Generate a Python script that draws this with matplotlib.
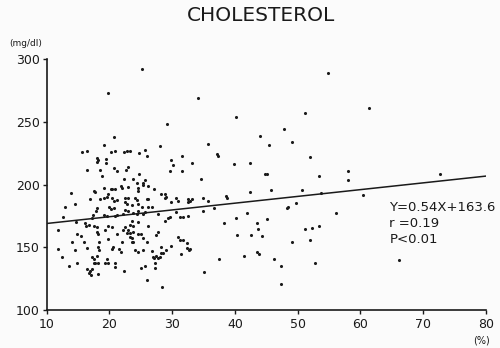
import matplotlib
matplotlib.use("Agg")
import matplotlib.pyplot as plt
import numpy as np

# Body-fat percentage (%) vs cholesterol (mg/dl)
fat_pct = [
    25.2, 19.8, 34.2, 40.2, 29.2, 20.8, 35.8, 19.2, 15.7, 16.5, 20.2, 20.9, 22.3, 22.8, 23.3,
    24.7, 25.7, 26.0, 28.1, 31.6, 37.2, 37.3, 18.0, 18.2, 18.1, 19.4, 19.4, 29.9, 30.1, 33.2,
    39.9, 16.5, 18.6, 20.8, 21.2, 22.6, 23.0, 24.7, 18.9, 29.7, 31.6, 22.3, 23.7, 25.7, 34.6,
    54.8, 61.4, 51.1, 47.9, 44.0, 49.1, 45.4, 52.0, 42.4, 44.8, 45.1, 53.4, 58.0, 72.7, 58.1,
    # dense centre, upper part
    13.9, 17.5, 17.7, 19.1, 20.2, 20.5, 20.9, 21.9, 22.1, 19.8, 19.6, 19.2, 16.9, 18.5, 20.5,
    20.7, 21.2, 12.9, 14.6, 18.0, 17.9, 20.0, 20.3, 20.7, 22.2, 12.6, 17.4, 17.2, 19.2, 19.7,
    20.9, 21.3, 16.2, 16.7, 16.3, 14.7, 17.5, 18.0, 19.8, 20.4,
    23.0, 24.5, 24.6, 26.2, 27.2, 24.4, 25.4, 25.3, 28.9, 29.1, 28.9, 28.2, 22.5, 23.0, 24.1,
    24.4, 26.0, 26.2, 30.7, 31.0, 32.6, 32.9, 33.1, 32.6, 29.9, 34.9, 22.5, 22.9, 23.6, 24.6,
    25.2, 26.1, 26.8, 34.9, 30.7, 22.5, 23.0, 23.8, 24.4, 24.5, 25.4, 25.7, 27.8, 29.7, 29.4,
    31.3, 31.8, 32.6, 28.9, 23.6, 23.3, 23.8, 24.6, 26.1,
    # dense centre, lower part
    11.9, 18.0, 18.2, 19.3, 21.2, 22.2, 14.9, 15.5, 19.8, 14.0, 16.0, 18.4, 22.0, 20.6, 20.4,
    21.5, 21.9, 11.8, 14.6, 16.4, 18.2, 18.4, 12.4, 17.2, 17.5, 18.0, 19.6, 19.3, 19.8, 17.5,
    17.7, 18.2, 14.8, 13.6, 20.9, 20.9, 16.4, 16.9, 16.8, 17.1, 17.3, 18.2, 22.3,
    22.5, 23.0, 22.8, 23.3, 23.8, 23.3, 23.6, 24.5, 25.0, 25.4, 23.6, 23.8, 26.0, 27.8, 27.5,
    30.9, 31.3, 31.8, 29.8, 29.1, 28.2, 28.6, 28.3, 28.1, 27.8, 27.5, 27.0, 27.2, 26.8, 24.1,
    24.6, 25.4, 32.3, 32.7, 32.9, 31.4, 32.3, 27.3, 27.3, 25.7, 25.0, 35.1, 26.0, 28.4,
    # right-hand spread
    42.4, 45.7, 50.7, 53.7, 60.4, 35.8, 38.6, 38.7, 36.6, 48.3, 48.5, 49.7, 42.0, 38.3, 40.2,
    43.6, 43.7, 45.1, 56.1, 40.3, 42.5, 44.3, 51.1, 52.3, 53.4, 49.1, 52.0, 37.5, 41.5, 43.6,
    43.8, 46.2, 47.3, 52.8, 66.1, 47.3,
]
cholesterol = [
    292.0, 272.9, 269.4, 254.0, 248.2, 238.0, 232.7, 231.4, 226.1, 227.1, 226.3, 227.1, 226.3, 226.9, 227.1,
    225.0, 227.9, 222.9, 230.8, 222.9, 224.5, 222.9, 220.9, 219.3, 217.8, 220.5, 217.0, 219.7, 215.7, 217.5,
    216.7, 211.7, 211.5, 213.0, 210.7, 211.7, 213.8, 208.7, 207.1, 210.7, 210.7, 204.8, 204.8, 204.0, 204.8,
    288.8, 261.2, 256.9, 244.6, 238.8, 234.3, 231.4, 222.1, 217.0, 208.3, 208.3, 206.5, 210.7, 208.7, 203.5,
    193.1, 195.2, 193.9, 197.6, 196.3, 196.8, 196.8, 198.9, 197.1, 192.5, 189.9, 189.6, 188.3, 188.3, 189.6,
    187.0, 187.8, 182.4, 184.3, 181.1, 179.2, 182.4, 180.3, 181.1, 176.4, 174.2, 175.8, 173.2, 175.8, 175.2,
    175.2, 175.6, 169.2, 167.8, 166.8, 170.4, 167.0, 166.2, 167.3, 166.5,
    197.9, 197.1, 194.9, 199.2, 196.3, 201.1, 201.1, 199.7, 192.3, 190.4, 189.6, 192.3, 189.6, 189.1, 189.1,
    187.8, 188.3, 188.3, 189.1, 187.0, 188.3, 187.0, 188.3, 186.4, 185.9, 189.1, 186.4, 184.3, 183.8, 184.3,
    182.4, 182.4, 182.4, 179.0, 177.9, 179.8, 179.0, 177.1, 176.4, 179.0, 176.4, 177.9, 176.4, 174.4, 173.2,
    174.4, 174.4, 175.0, 171.0, 171.0, 167.8, 167.3, 170.4, 167.3,
    163.8, 162.6, 160.4, 163.8, 160.4, 163.8, 160.4, 159.3, 156.6, 154.0, 154.5, 154.0, 154.0, 150.5, 148.7,
    148.7, 146.0, 148.7, 147.9, 149.7, 150.0, 147.9, 142.0, 142.5, 140.7, 143.3, 140.7, 137.3, 137.3, 137.3,
    137.7, 137.3, 137.3, 135.3, 137.3, 134.1, 132.5, 131.1, 129.3, 127.9, 132.7, 128.5, 131.1,
    166.5, 163.8, 161.2, 161.2, 162.5, 158.5, 157.2, 160.6, 160.6, 157.2, 154.5, 154.0, 154.0, 162.0, 159.8,
    158.0, 156.2, 155.8, 151.3, 147.9, 150.5, 145.2, 145.2, 142.5, 141.2, 143.3, 142.5, 141.2, 147.1, 147.9,
    146.5, 147.9, 149.2, 147.9, 148.7, 144.7, 153.2, 137.3, 133.3, 135.3, 133.7, 130.6, 123.9, 118.6,
    194.4, 195.7, 195.7, 193.6, 191.5, 187.0, 190.9, 189.6, 181.6, 181.6, 182.4, 185.6, 177.6, 169.6, 173.6,
    169.2, 164.6, 172.6, 177.1, 159.6, 159.6, 159.3, 164.4, 165.2, 167.0, 154.0, 155.8, 140.9, 143.3, 146.0,
    144.4, 140.7, 134.9, 137.7, 139.9, 120.5,
]

slope = 0.54
intercept = 163.6
line_x = [10, 80]

x_ticks = [10, 20, 30, 40, 50, 60, 70, 80]
y_ticks = [100, 150, 200, 250, 300]
stats_lines = ["Y=0.54X+163.6", "r =0.19", "P<0.01"]

plt.rcParams['font.family'] = ['DejaVu Sans']

fig = plt.figure(figsize=(5.0, 3.48), dpi=100)
fig.patch.set_facecolor('#fbfbfb')
ax = fig.add_axes([0.093, 0.109, 0.879, 0.721])
ax.set_facecolor('#fbfbfb')

ax.scatter(fat_pct, cholesterol, s=5, color='#1a1a1a', linewidths=0, zorder=3, clip_on=False)
lx = np.array(line_x, dtype=float)
ax.plot(lx, slope * lx + intercept, color='#1a1a1a', lw=1.1, zorder=2)

ax.set_xlim(10, 80)
ax.set_ylim(100, 300)
ax.set_xticks(x_ticks)
ax.set_yticks(y_ticks)
ax.tick_params(axis='both', direction='out', length=3, width=1.0, color='#1a1a1a',
               labelsize=9, labelcolor='#1a1a1a', pad=2)
ax.tick_params(axis='x', pad=3)
for s in ['top', 'right']:
    ax.spines[s].set_visible(False)
for s in ['left', 'bottom']:
    ax.spines[s].set_linewidth(1.2)
    ax.spines[s].set_color('#1a1a1a')

for i, t in enumerate(stats_lines):
    ax.text(64.6, 181.5 - i * 12.8, t, fontsize=9.5, color='#1a1a1a', ha='left', va='center')

fig.text(0.522, 0.955, "CHOLESTEROL", fontsize=14.5, ha='center', va='center', color='#1a1a1a')
fig.text(0.018, 0.874, "(mg/dl)", fontsize=6.5, ha='left', va='center', color='#1a1a1a')
fig.text(0.962, 0.022, "(%)", fontsize=7, ha='center', va='center', color='#1a1a1a')

fig.savefig("out.png", dpi=100, facecolor=fig.get_facecolor())
